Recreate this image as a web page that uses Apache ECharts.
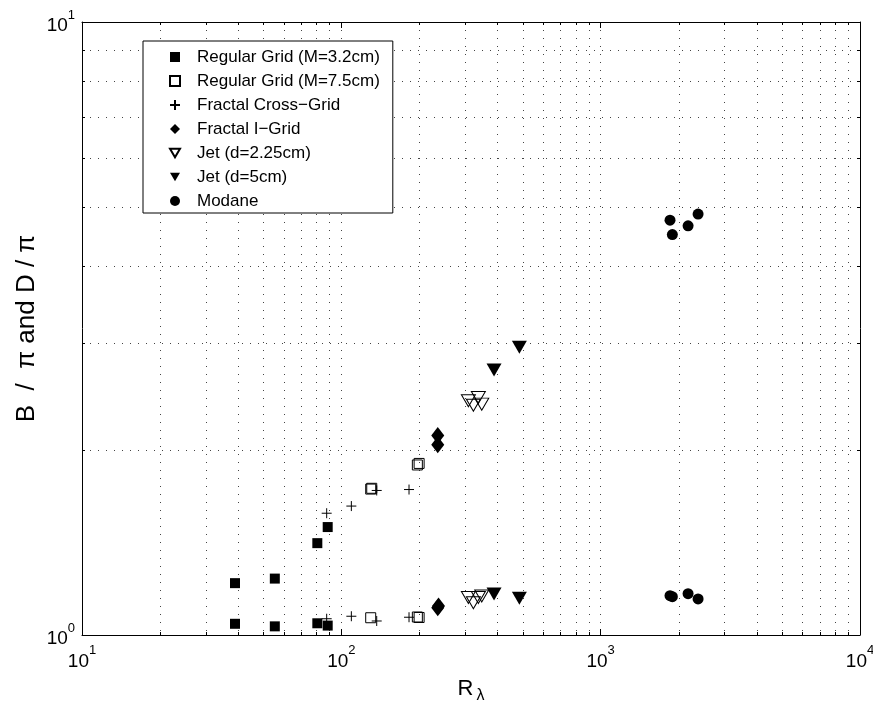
<!DOCTYPE html>
<html><head><meta charset="utf-8">
<script src="https://cdn.jsdelivr.net/npm/echarts@6/dist/echarts.min.js"></script>
<style>html,body{margin:0;padding:0;background:#fff}#c{width:873px;height:715px}</style>
</head><body><div id="c"></div><script>
// ---------------- data ----------------
const regGrid32X = [38.9, 38.9, 55.4, 55.4, 80.8, 80.8, 88.6, 88.6];
const regGrid32Y = [1.215, 1.043, 1.236, 1.033, 1.412, 1.045, 1.50, 1.036];

const regGrid75X = [129.8, 131.0, 196.4, 199.5, 129.8, 196.4, 199.5];
const regGrid75Y = [1.73, 1.735, 1.894, 1.905, 1.067, 1.070, 1.068];

const fractalCrossX = [87.8, 87.8, 109.3, 109.3, 136.9, 136.9, 182.4, 182.4];
const fractalCrossY = [1.58, 1.063, 1.623, 1.073, 1.721, 1.054, 1.727, 1.069];

const fractalIX = [235.4, 235.4, 235.4, 237.0];
const fractalIY = [2.115, 2.044, 1.108, 1.115];

const jet225X = [309, 323, 337.6, 347.9, 309, 323, 337.6, 347.9];
const jet225Y = [2.41, 2.37, 2.44, 2.38, 1.151, 1.129, 1.151, 1.158];

const jet5X = [485.9, 388, 388, 485.9];
const jet5Y = [2.948, 2.707, 1.166, 1.148];

const modaneX = [1851, 1890, 2173, 2375, 1851, 1890, 2173, 2375];
const modaneY = [4.75, 4.50, 4.65, 4.86, 1.159, 1.155, 1.168, 1.145];

const seriesNames = ['Regular Grid (M=3.2cm)', 'Regular Grid (M=7.5cm)', 'Fractal Cross\u2212Grid',
  'Fractal I\u2212Grid', 'Jet (d=2.25cm)', 'Jet (d=5cm)', 'Modane'];

const xMin = 10, xMax = 10000, yMin = 1, yMax = 10;
const xMinorGrid = [20,30,40,50,60,70,80,90,200,300,400,500,600,700,800,900,2000,3000,4000,5000,6000,7000,8000,9000];
const yMinorGrid = [2,3,4,5,6,7,8,9];

// ---------------- helpers ----------------
const FONT = "'Liberation Sans', Arial, Helvetica, sans-serif";
function pts(xs, ys) { return xs.map((x, i) => [x, ys[i]]); }
function expLabel(v) { return '{b|10}{s|' + Math.round(Math.log10(v)) + '}'; }
const labelRich = {
  b: { fontSize: 19, lineHeight: 27, verticalAlign: 'bottom', fontFamily: FONT, color: '#000' },
  s: { fontSize: 13, lineHeight: 16, verticalAlign: 'top', fontFamily: FONT, color: '#000' }
};
const GRID_COLOR = '#444';
const DOT = [1, 7];

function minorXItem(params, api) {
  const cs = params.coordSys;
  const x = Math.round(api.coord([api.value(0), api.value(1)])[0]) + 0.5;
  const top = cs.y, bottom = cs.y + cs.height;
  return { type: 'group', children: [
    { type: 'line', shape: { x1: x, y1: top, x2: x, y2: bottom }, style: { stroke: GRID_COLOR, lineWidth: 1, lineDash: DOT } },
    { type: 'line', shape: { x1: x, y1: bottom, x2: x, y2: bottom - 3 }, style: { stroke: '#000', lineWidth: 1 } },
    { type: 'line', shape: { x1: x, y1: top, x2: x, y2: top + 3 }, style: { stroke: '#000', lineWidth: 1 } }
  ]};
}
function minorYItem(params, api) {
  const cs = params.coordSys;
  const y = Math.round(api.coord([api.value(0), api.value(1)])[1]) + 0.5;
  const left = cs.x, right = cs.x + cs.width;
  return { type: 'group', children: [
    { type: 'line', shape: { x1: left, y1: y, x2: right, y2: y }, style: { stroke: GRID_COLOR, lineWidth: 1, lineDash: DOT } },
    { type: 'line', shape: { x1: left, y1: y, x2: left + 3, y2: y }, style: { stroke: '#000', lineWidth: 1 } },
    { type: 'line', shape: { x1: right, y1: y, x2: right - 3, y2: y }, style: { stroke: '#000', lineWidth: 1 } }
  ]};
}

const openStyle = { color: 'rgba(0,0,0,0)', borderColor: '#000', borderWidth: 1, opacity: 1 };
const fillStyle = { color: '#000', opacity: 1 };
const triPath = 'path://M0,0L14,0L7,12Z';
const plusPath = 'path://M0,5L10,5M5,0L5,10';

function scatter(name, xs, ys, symbol, size, style) {
  return { name, type: 'scatter', data: pts(xs, ys), symbol, symbolSize: size,
    itemStyle: style, z: 3, emphasis: { disabled: true } };
}

const axisLine = { show: true, onZero: false, lineStyle: { color: '#000', width: 1 } };
const majorTick = { show: true, inside: true, length: 6, lineStyle: { color: '#000', width: 1 } };

const chart = echarts.init(document.getElementById('c'));
chart.setOption({
  animation: false,
  backgroundColor: '#fff',
  textStyle: { fontFamily: FONT },
  grid: { left: 82, right: 13, top: 22, bottom: 80, containLabel: false, outerBoundsMode: 'none' },
  xAxis: [
    { type: 'log', logBase: 10, min: xMin, max: xMax, position: 'bottom',
      axisLine, axisTick: majorTick,
      axisLabel: { margin: 9, formatter: expLabel, rich: labelRich },
      splitLine: { show: true, lineStyle: { color: GRID_COLOR, type: DOT, width: 1 } },
      name: '{r|R}{l|\u03bb}', nameLocation: 'middle', nameGap: 43, nameMoveOverlap: false,
      nameTextStyle: { verticalAlign: 'top', rich: {
        r: { fontSize: 22, lineHeight: 26, verticalAlign: 'top', fontFamily: FONT, color: '#000', padding: [0, 0, 20, 0] },
        l: { fontSize: 16, lineHeight: 18, verticalAlign: 'bottom', fontFamily: FONT, color: '#000', padding: [0, 0, 0, 3] }
      } } },
    { type: 'log', logBase: 10, min: xMin, max: xMax, position: 'top',
      axisLine, axisTick: majorTick, axisLabel: { show: false }, splitLine: { show: false } }
  ],
  yAxis: [
    { type: 'log', logBase: 10, min: yMin, max: yMax, position: 'left',
      axisLine, axisTick: majorTick,
      axisLabel: { margin: 7, formatter: expLabel, rich: labelRich },
      splitLine: { show: true, lineStyle: { color: GRID_COLOR, type: DOT, width: 1 } },
      name: 'B  /  \u03c0 and D / \u03c0', nameLocation: 'middle', nameGap: 42, nameMoveOverlap: false,
      nameTextStyle: { fontSize: 26, fontFamily: FONT, color: '#000' } },
    { type: 'log', logBase: 10, min: yMin, max: yMax, position: 'right',
      axisLine, axisTick: majorTick, axisLabel: { show: false }, splitLine: { show: false } }
  ],
  legend: {
    data: seriesNames, orient: 'vertical', left: 143, top: 41,
    backgroundColor: '#fff', borderColor: '#000', borderWidth: 1, borderRadius: 0,
    padding: [7, 13, 3, 26], itemWidth: 10, itemHeight: 10, itemGap: 6,
    selectedMode: false,
    textStyle: { fontSize: 17, lineHeight: 18, fontFamily: FONT, color: '#000', padding: [0, 0, 0, 12] }
  },
  series: [
    { type: 'custom', name: 'xminor', renderItem: minorXItem, data: xMinorGrid.map(v => [v, yMin]), z: 1, silent: true },
    { type: 'custom', name: 'yminor', renderItem: minorYItem, data: yMinorGrid.map(v => [xMin, v]), z: 1, silent: true },
    scatter(seriesNames[0], regGrid32X, regGrid32Y, 'rect', 10, fillStyle),
    scatter(seriesNames[1], regGrid75X, regGrid75Y, 'rect', 10, openStyle),
    scatter(seriesNames[2], fractalCrossX, fractalCrossY, plusPath, 10, openStyle),
    scatter(seriesNames[3], fractalIX, fractalIY, 'diamond', [13, 17], fillStyle),
    scatter(seriesNames[4], jet225X, jet225Y, triPath, [14, 12], openStyle),
    scatter(seriesNames[5], jet5X, jet5Y, triPath, [15, 13], fillStyle),
    scatter(seriesNames[6], modaneX, modaneY, 'circle', 11, fillStyle)
  ]
});
</script></body></html>
